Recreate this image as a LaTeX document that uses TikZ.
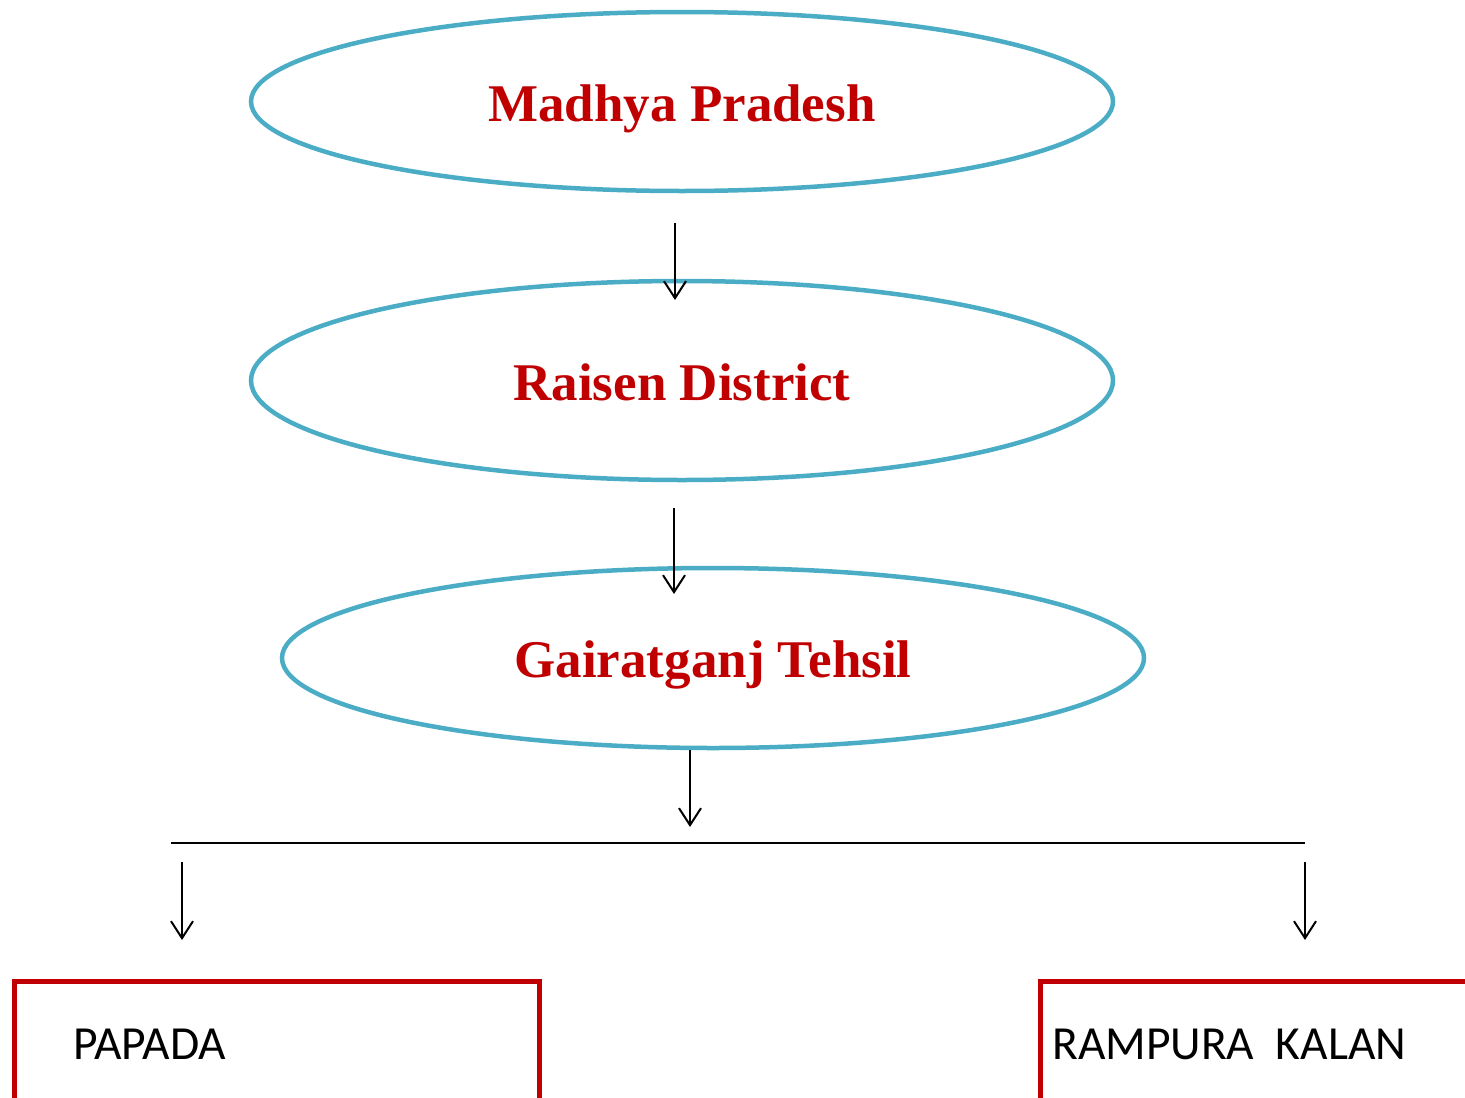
\documentclass[tikz,border=0pt]{standalone}
\usepackage{fontspec}
\setmainfont{Liberation Serif}
\newfontfamily\calibri{Carlito}
\usetikzlibrary{shapes.geometric,arrows.meta}
\definecolor{ellblue}{HTML}{4BACC6}
\definecolor{darkred}{HTML}{C00000}
\tikzset{
  ell/.style={ellipse, draw=ellblue, line width=4.5pt, inner sep=0pt},
  title/.style={anchor=base, text=darkred, font=\fontsize{53}{60}\selectfont\bfseries, inner sep=0pt},
  villbox/.style={draw=darkred, line width=4.5pt, anchor=north west, inner sep=0pt},
  vill/.style={anchor=base west, font=\calibri\fontsize{47.5}{54}\selectfont, inner sep=0pt},
  arr/.style={-{Straight Barb[length=17pt,width=22pt,line width=2pt]}, line width=2pt},
  plain/.style={line width=2pt}
}
\begin{document}
\begin{tikzpicture}[x=1pt,y=-1pt]
\useasboundingbox (0,0) rectangle (1465,1098);
\clip (0,0) rectangle (1465,1098);
% ellipses
\node[ell, minimum width=862, minimum height=179] (e1) at (682,101.5) {};
\node[ell, minimum width=862, minimum height=199] (e2) at (682,380.5) {};
\node[ell, minimum width=862, minimum height=180] (e3) at (713,658) {};
\node[title] (t1) at (682,121) {Madhya Pradesh};
\node[title] (t2) at (682,400) {Raisen District};
\node[title] (t3) at (713,677) {Gairatganj Tehsil};
% boxes
\node[villbox, minimum width=525, minimum height=200] (b1) at (12,979) {};
\node[villbox, minimum width=460, minimum height=200] (b2) at (1038,979) {};
\node[vill] (v1) at (73,1059) {PAPADA};
\node[vill] (v2) at (1052,1059) {RAMPURA\ \ KALAN};
% connectors
\coordinate (a1s) at (675,223); \coordinate (a1e) at (675,300);
\coordinate (a2s) at (674,508); \coordinate (a2e) at (674,594);
\coordinate (a3s) at (690,750); \coordinate (a3e) at (690,827);
\coordinate (hl) at (171,843); \coordinate (hr) at (1305,843);
\coordinate (a4s) at (182,862); \coordinate (a4e) at (182,940);
\coordinate (a5s) at (1305,862); \coordinate (a5e) at (1305,940);
\draw[arr] (a1s) -- (a1e);
\draw[arr] (a2s) -- (a2e);
\draw[arr] (a3s) -- (a3e);
\draw[plain] (hl) -- (hr);
\draw[arr] (a4s) -- (a4e);
\draw[arr] (a5s) -- (a5e);
\end{tikzpicture}
\end{document}
